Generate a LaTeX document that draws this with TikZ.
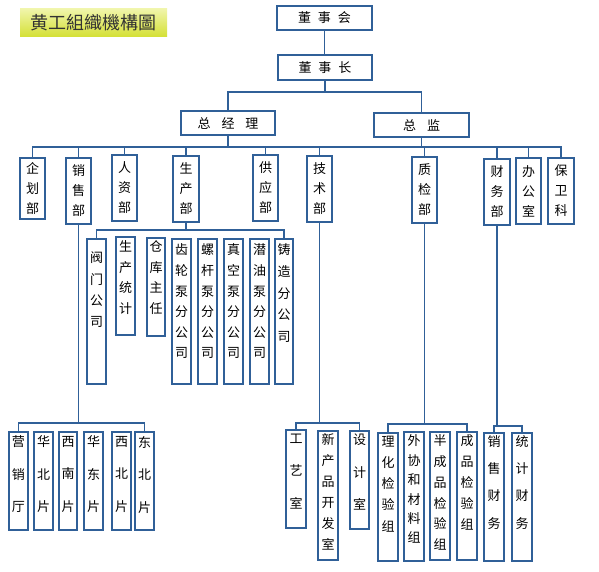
\documentclass[tikz,border=0pt]{standalone}
\usepackage{fontspec}
\newfontfamily\cjk{Noto Sans CJK SC}
\definecolor{lineblue}{RGB}{48,96,152}
\definecolor{titletop}{RGB}{240,245,170}
\definecolor{titlebot}{RGB}{212,224,52}
% vertical column of characters, aligned to the top of its box
\newcommand{\vcol}[4]{\parbox[c][#1pt][t]{14pt}{\centering\cjk\fontsize{13}{#2pt}\selectfont\vspace*{#3pt}#4}}
\begin{document}
\begin{tikzpicture}[x=1pt, y=-1pt,
  box/.style={draw=lineblue, line width=1.4pt, fill=white, inner sep=0pt,
    font=\cjk\fontsize{13}{20}\selectfont, align=center},
  col/.style={draw=lineblue, line width=1.4pt, fill=white, inner sep=0pt},
  link/.style={draw=lineblue, line width=1.4pt}]
  \useasboundingbox (0,0) rectangle (599,572);
  \node[inner sep=0pt, minimum width=147, minimum height=28, top color=titletop,
    bottom color=titlebot, text=black!80, font=\cjk\fontsize{18}{18}\selectfont]
    (title) at (93.5,23) {黄工組織機構圖};
  % top
  \node[box, minimum width=95, minimum height=24] (dsh) at (324.5,18) {董\hspace{7pt}事\hspace{7pt}会};
  \node[box, minimum width=94, minimum height=25] (dsz) at (325,67.5) {董\hspace{7pt}事\hspace{7pt}长};
  \node[box, minimum width=94, minimum height=24] (zjl) at (228,123) {总\hspace{11pt}经\hspace{11pt}理};
  \node[box, minimum width=95, minimum height=24] (zj) at (421.5,125) {总\hspace{11pt}监};
  % departments
  \node[box, minimum width=25, minimum height=61] (qhb) at (32.5,188.5) {企\\划\\部};
  \node[box, minimum width=25, minimum height=66] (xsb) at (78.5,191) {销\\售\\部};
  \node[box, minimum width=25, minimum height=66] (rzb) at (124.5,188) {人\\资\\部};
  \node[box, minimum width=26, minimum height=66] (scb) at (186,189) {生\\产\\部};
  \node[box, minimum width=25, minimum height=66] (gyb) at (265.5,188) {供\\应\\部};
  \node[box, minimum width=25, minimum height=66] (jsb) at (319.5,189) {技\\术\\部};
  \node[box, minimum width=25, minimum height=66] (zjb) at (424.5,190) {质\\检\\部};
  \node[box, minimum width=26, minimum height=66] (cwb) at (497,192) {财\\务\\部};
  \node[box, minimum width=25, minimum height=66] (bgs) at (528.5,191) {办\\公\\室};
  \node[box, minimum width=26, minimum height=66] (bwk) at (561,191) {保\\卫\\科};
  % production
  \node[col, minimum width=19] (fm) at (96.5,311.5) {\vcol{145}{21.3}{13}{阀\\门\\公\\司}};
  \node[col, minimum width=19] (sctj) at (125.5,286) {\vcol{98}{20.5}{4}{生\\产\\统\\计}};
  \node[col, minimum width=18] (ckzr) at (156,287) {\vcol{98}{20.5}{3}{仓\\库\\主\\任}};
  \node[col, minimum width=19] (clb) at (181.5,311.5) {\vcol{145}{20.6}{5}{齿\\轮\\泵\\分\\公\\司}};
  \node[col, minimum width=19] (lgb) at (207.5,311.5) {\vcol{145}{20.6}{5}{螺\\杆\\泵\\分\\公\\司}};
  \node[col, minimum width=19] (zkb) at (233.5,311.5) {\vcol{145}{20.6}{5}{真\\空\\泵\\分\\公\\司}};
  \node[col, minimum width=19] (qyb) at (259.5,311.5) {\vcol{145}{20.6}{5}{潜\\油\\泵\\分\\公\\司}};
  \node[col, minimum width=18] (zz) at (284,311.5) {\vcol{145}{21.6}{5}{铸\\造\\分\\公\\司}};
  % sales
  \node[col, minimum width=19] (yxt) at (18.5,481) {\vcol{98}{32.5}{4}{营\\销\\厅}};
  \node[col, minimum width=19] (hbp) at (43.5,481) {\vcol{98}{32.5}{4}{华\\北\\片}};
  \node[col, minimum width=18] (xnp) at (68,481) {\vcol{98}{32.5}{4}{西\\南\\片}};
  \node[col, minimum width=19] (hdp) at (93.5,481) {\vcol{98}{32.5}{4}{华\\东\\片}};
  \node[col, minimum width=19] (xbp) at (121.5,481) {\vcol{98}{32.5}{4}{西\\北\\片}};
  \node[col, minimum width=19] (dbp) at (144.5,481) {\vcol{98}{32.5}{4}{东\\北\\片}};
  % technology
  \node[col, minimum width=20] (gys) at (296,479) {\vcol{98}{32.5}{4}{工\\艺\\室}};
  \node[col, minimum width=20] (xcp) at (328,495.5) {\vcol{129}{21}{3}{新\\产\\品\\开\\发\\室}};
  \node[col, minimum width=19] (sjs) at (359.5,480) {\vcol{98}{32.5}{3}{设\\计\\室}};
  % quality
  \node[col, minimum width=20] (lhj) at (388,497) {\vcol{128}{21.2}{3}{理\\化\\检\\验\\组}};
  \node[col, minimum width=20] (wxc) at (414,496.5) {\vcol{129}{19.4}{3}{外\\协\\和\\材\\料\\组}};
  \node[col, minimum width=20] (bcp) at (440,496) {\vcol{128}{20.7}{3}{半\\成\\品\\检\\验\\组}};
  \node[col, minimum width=20] (cpj) at (467,496) {\vcol{128}{20.8}{3}{成\\品\\检\\验\\组}};
  % finance
  \node[col, minimum width=20] (xscw) at (494,497) {\vcol{128}{27.2}{2.5}{销\\售\\财\\务}};
  \node[col, minimum width=20] (tjcw) at (522,497) {\vcol{128}{27.2}{2.5}{统\\计\\财\\务}};
  % connectors
  \coordinate (b1) at (0,92);
  \coordinate (b2) at (0,147);
  \coordinate (b3) at (0,230);
  \coordinate (b4) at (0,423);
  \coordinate (b5) at (0,424);
  \coordinate (b6) at (0,426);
  \draw[link] (dsh.south) -- (dsh.south |- dsz.north);
  \draw[link] (dsz.south) -- (dsz.south |- b1);
  \draw[link] (zjl.north) -- (zjl.north |- b1) -| (zj.north);
  \draw[link] (qhb.north) -- (qhb.north |- b2) -| (bwk.north);
  \draw[link] (zjl.south) -- (zjl.south |- b2);
  \draw[link] (zj.south) -- (zj.south |- b2);
  \foreach \n in {xsb,rzb,scb,gyb,jsb,zjb,cwb,bgs}
    \draw[link] (\n.north) -- (\n.north |- b2);
  \draw[link] (scb.south) -- (scb.south |- b3);
  \draw[link] (fm.north) -- (fm.north |- b3) -| (zz.north);
  \draw[link] (xsb.south) -- (xsb.south |- b4);
  \draw[link] (yxt.north) -- (yxt.north |- b4) -| (dbp.north);
  \draw[link] (jsb.south) -- (jsb.south |- b4);
  \draw[link] (gys.north) -- (gys.north |- b4) -| (sjs.north);
  \draw[link] (zjb.south) -- (zjb.south |- b5);
  \draw[link] (lhj.north) -- (lhj.north |- b5) -| (cpj.north);
  \draw[link] (cwb.south) -- (cwb.south |- b6);
  \draw[link] (xscw.north) -- (xscw.north |- b6) -| (tjcw.north);
\end{tikzpicture}
\end{document}
